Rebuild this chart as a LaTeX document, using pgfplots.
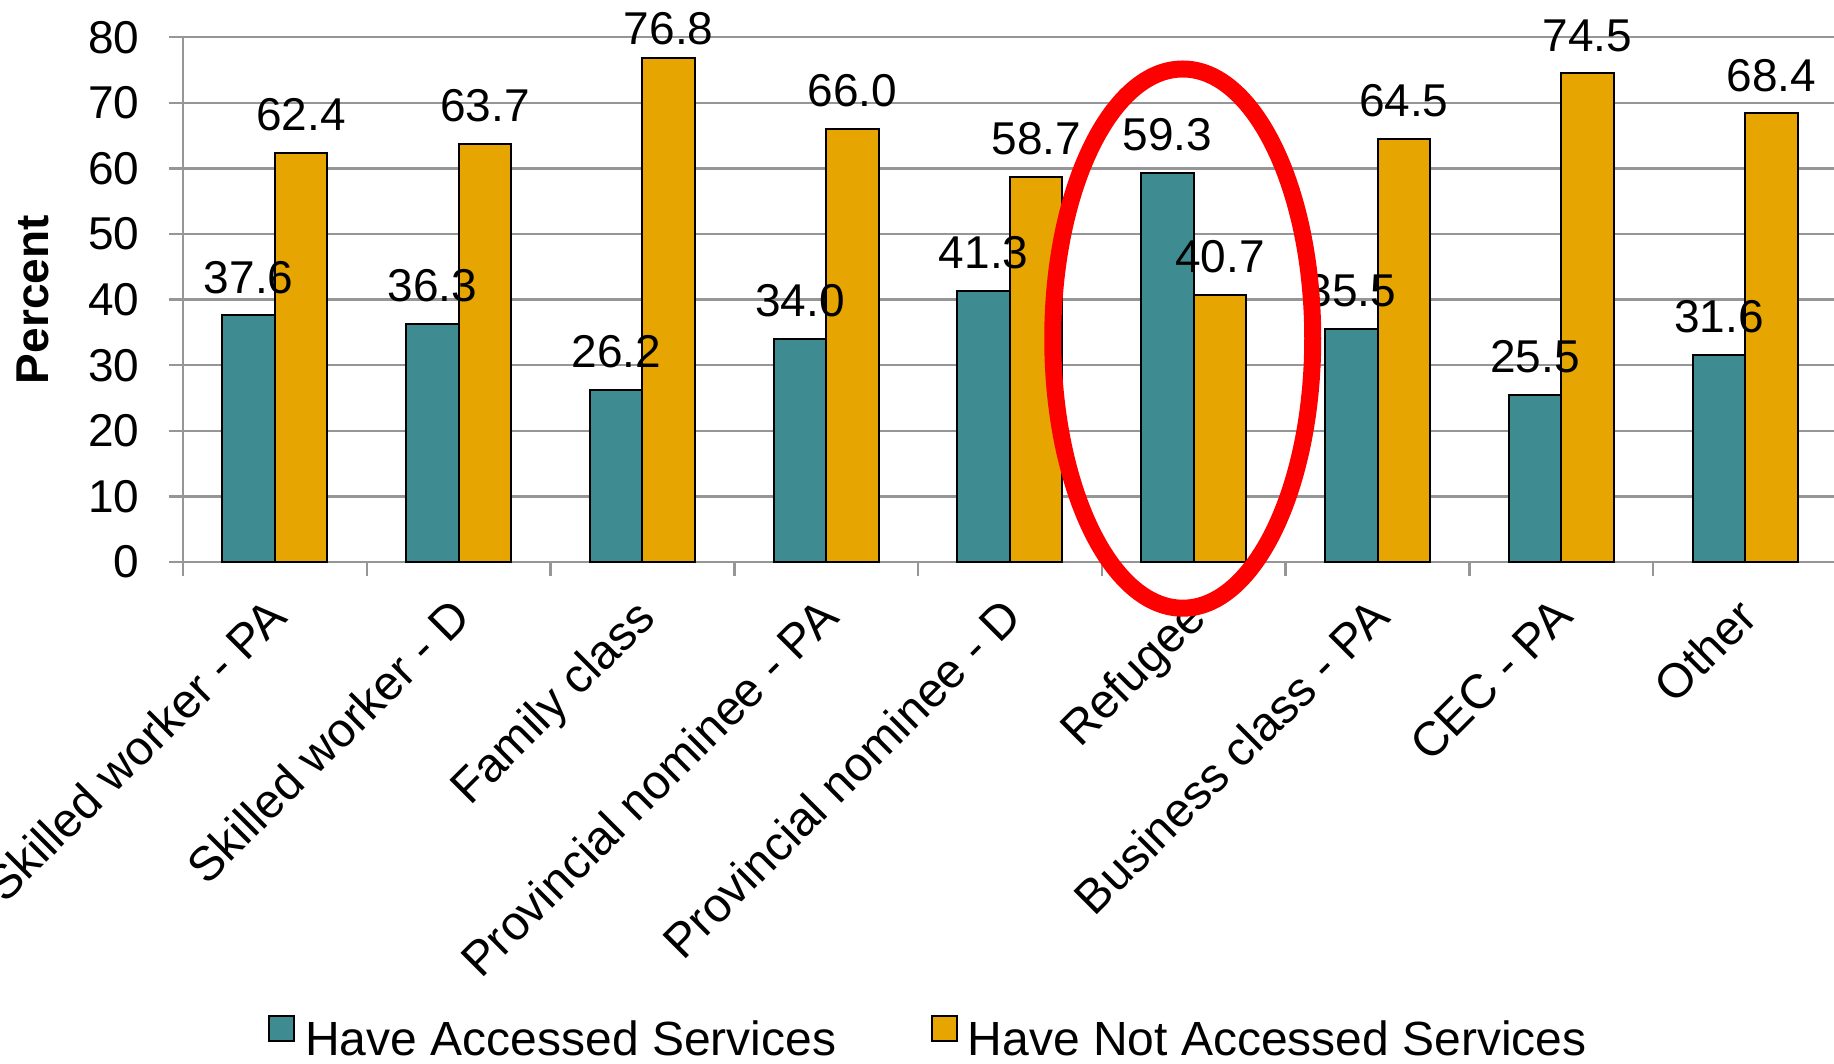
\documentclass[border=0pt]{standalone}
\usepackage{fontspec}
\setmainfont{Liberation Sans}
\usepackage{pgfplots}
\pgfplotsset{compat=1.18}
\definecolor{teal1}{RGB}{62,139,145}
\definecolor{gold1}{RGB}{230,165,0}
\definecolor{gridg}{RGB}{150,150,150}
\newcommand\fsz{\fontsize{11.5}{13.8}\selectfont}
\newcommand\fszl{\fontsize{12}{14.4}\selectfont}
\pgfplotsset{
  common/.style={
    at={(0,0)}, anchor=south west, scale only axis,
    width=413.5pt, height=131.2pt,
    xmin=-0.5, xmax=8.5, ymin=0, ymax=80,
    ybar=0pt, bar width=13.125pt,
  }
}
\begin{document}
\begin{tikzpicture}[font=\fsz]
\begin{axis}[common,
  axis x line*=bottom, axis y line*=left,
  axis line style={gridg, line width=0.6pt},
  /pgf/number format/assume math mode=true,
  ytick={0,10,...,80}, ymajorgrids, grid style={gridg, line width=0.6pt},
  yticklabel style={font=\fsz, inner sep=0pt, xshift=-7.15pt},
  xtick={-0.5,0.5,...,8.5}, xticklabels={},
  tick align=outside, major tick length=3.6pt, tick style={gridg, line width=0.6pt},
  extra x ticks={0,1,2,3,4,5,6,7,8},
  extra x tick labels={Skilled worker - PA, Skilled worker - D, Family class, Provincial nominee - PA, Provincial nominee - D, Refugee, Business class - PA, CEC - PA, Other},
  extra x tick style={major tick length=0pt, grid=none,
    xticklabel style={font=\fszl, inner sep=0pt, xshift=-2.5pt, yshift=-8.1pt, rotate=45, anchor=north east}},
  ylabel={\bfseries Percent},
  ylabel style={at={(axis description cs:-0.0804,0.5)}, anchor=south, inner sep=0pt, font=\fsz},
  legend columns=2,
  legend image code/.code={\draw[#1, draw=black, line width=0.5pt] (0pt,0pt) rectangle (6.25pt,6.25pt);},
  legend style={at={(axis description cs:0.0511,-0.907)}, anchor=west, draw=none, fill=none,
    inner sep=0pt, font=\fszl, nodes={inner sep=0pt},
    /tikz/every odd column/.append style={column sep=2.5pt},
    /tikz/every even column/.append style={column sep=23.65pt}},
]
\addplot[fill=teal1, draw=black, line width=0.5pt] coordinates {(0,37.6) (1,36.3) (2,26.2) (3,34.0) (4,41.3) (5,59.3) (6,35.5) (7,25.5) (8,31.6)};
\addplot[fill=gold1, draw=black, line width=0.5pt] coordinates {(0,62.4) (1,63.7) (2,76.8) (3,66.0) (4,58.7) (5,40.7) (6,64.5) (7,74.5) (8,68.4)};
\legend{Have Accessed Services, Have Not Accessed Services}
\coordinate (ellc) at (axis cs:4.94,34.06);
\end{axis}
\begin{axis}[common, hide axis, clip=false,
  visualization depends on={y \as \yval},
  nodes near coords={\pgfmathprintnumber[fixed,fixed zerofill,precision=1,assume math mode=true]{\pgfplotspointmeta}},
  every node near coord/.append style={font=\fsz, inner sep=0pt, anchor=south, yshift={5.25pt-(\yval>76)*2.25pt}, text=black},
]
\addplot[draw=none, fill=none] coordinates {(0,37.6) (1,36.3) (2,26.2) (3,34.0) (4,41.3) (5,59.3) (6,35.5) (7,25.5) (8,31.6)};
\addplot[draw=none, fill=none] coordinates {(0,62.4) (1,63.7) (2,76.8) (3,66.0) (4,58.7) (5,40.7) (6,64.5) (7,74.5) (8,68.4)};
\end{axis}
\draw[red, line width=4.25pt] (ellc) ellipse [x radius=32.5pt, y radius=67.4pt];
\pgfresetboundingbox
\path[use as bounding box] (-45.75pt,-125.25pt) rectangle (412.75pt,140.5pt);
\end{tikzpicture}
\end{document}
